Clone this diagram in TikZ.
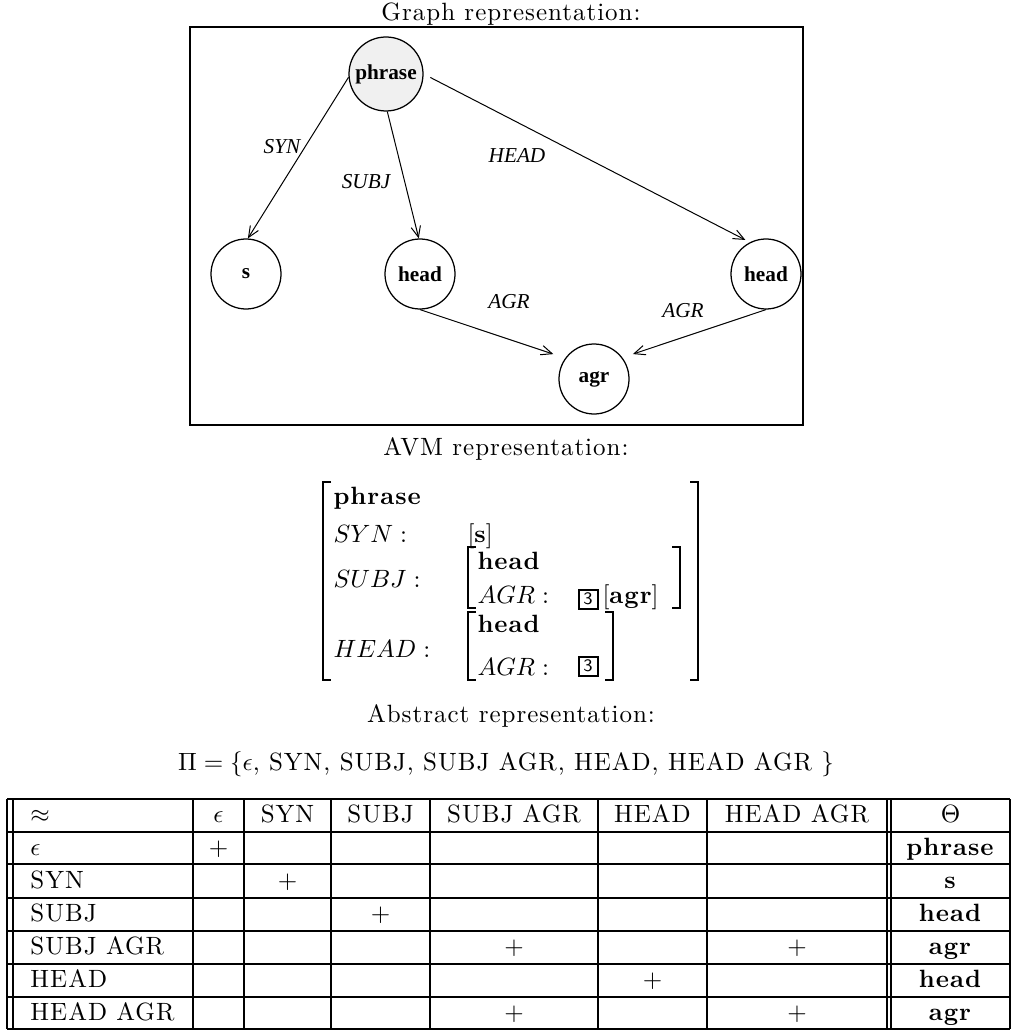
\documentclass[tikz,border=0pt]{standalone}
\usepackage{fontspec}
\setmainfont{lmroman10}[Extension=.otf,UprightFont=*-regular,BoldFont=*-bold,
  ItalicFont=*-italic,BoldItalicFont=*-bolditalic,LetterSpace=4]
\newfontfamily\graphfont{Liberation Serif}
\usepackage{tikz}
\usetikzlibrary{arrows.meta,positioning}

\begin{document}
\begin{tikzpicture}[x=0.4pt,y=-0.4pt,
  fsnode/.style={draw,circle,line width=0.5pt,minimum size=28pt,inner sep=0pt,
    font=\graphfont\bfseries\fontsize{8.5}{10}\selectfont},
  lbl/.style={inner sep=0pt,font=\graphfont\itshape\fontsize{8.5}{10}\selectfont},
  arr/.style={-{Straight Barb[length=4.4pt,width=3.8pt]},line width=0.4pt},
  heading/.style={anchor=base,inner sep=0pt},
  avmtext/.style={anchor=base west,inner sep=0pt},
  tagbox/.style={draw,line width=0.8pt,minimum size=7.6pt,inner sep=0pt,
    font=\sffamily\scriptsize},
  brk/.style={line width=1pt},
  cell/.style={anchor=base,inner sep=0pt},
  tabline/.style={line width=0.8pt}]
  \useasboundingbox (0,0) rectangle (1011,1032);

  \node[heading] (gcap) at (511,21) {Graph representation:};
  \draw[line width=1.1pt] (190,27) rectangle (803,425);
  \node[fsnode,fill=black!6,minimum size=29.6pt] (phrase) at (386,74) {phrase};
  \node[fsnode] (s) at (246,274) {s};
  \node[fsnode] (head1) at (420,274) {head};
  \node[fsnode] (head2) at (766,274) {head};
  \node[fsnode] (agr) at (594,379) {agr};
  \draw[arr] (phrase.185) -- (s.87);
  \draw[arr] (phrase.272) -- (head1.92);
  \draw[arr,shorten <=3pt,shorten >=2pt] (phrase.0) -- (head2.117);
  \draw[arr,shorten >=5pt] (head1.south) -- (agr.144);
  \draw[arr,shorten >=4.4pt] (head2.south) -- (agr.37);
  \node[lbl] (lsyn) at (282,147) {SYN};
  \node[lbl] (lsubj) at (366,182) {SUBJ};
  \node[lbl] (lhead) at (517,156) {HEAD};
  \node[lbl] (lagr1) at (509,302) {AGR};
  \node[lbl] (lagr2) at (683,311) {AGR};

  \node[heading] (acap) at (506,455) {AVM representation:};
  \node[avmtext] (aphrase) at (333,504) {\textbf{phrase}};
  \node[avmtext] (asyn) at (333,542) {$SYN:$};
  \node[avmtext] (asynval) at (467,542) {$[\textbf{s}]$};
  \node[avmtext] (asubj) at (333,587) {$SUBJ:$};
  \node[avmtext] (ahead1) at (477,569) {\textbf{head}};
  \node[avmtext] (aagr1) at (477,603) {$AGR:$};
  \node[tagbox] (tag1) at (588,599) {3};
  \node[avmtext] (aagrval) at (602,603) {$[\textbf{agr}]$};
  \node[avmtext] (ahead) at (333,657) {$HEAD:$};
  \node[avmtext] (ahead2) at (477,632) {\textbf{head}};
  \node[avmtext] (aagr2) at (477,675) {$AGR:$};
  \node[tagbox] (tag2) at (588,666) {3};
  \draw[brk] (331,482) -| (323,680) -- (331,680);
  \draw[brk] (690,482) -| (698,680) -- (690,680);
  \draw[brk] (476,547) -| (468,608) -- (476,608);
  \draw[brk] (672,547) -| (680,608) -- (672,608);
  \draw[brk] (476,612) -| (468,680) -- (476,680);
  \draw[brk] (605,612) -| (613,680) -- (605,680);

  \node[heading] (tcap) at (511,722) {Abstract representation:};
  \node[heading] (paths) at (506,770)
    {$\Pi = \{\epsilon$, SYN, SUBJ, SUBJ AGR, HEAD, HEAD AGR $\}$};
  \foreach \y in {799,832,864,898,931,964,997,1029}
    \draw[tabline] (7,\y) -- (1010,\y);
  \foreach \x in {7,13,193,244,331,430,598,707,887,891,1010}
    \draw[tabline] (\x,799) -- (\x,1029);
  \node[cell,anchor=base west] (h0) at (30,822) {$\approx$};
  \foreach \x/\t [count=\i] in {218.5/$\epsilon$,287.5/SYN,380.5/SUBJ,514/SUBJ AGR,
      652.5/HEAD,797/HEAD AGR,950.5/$\Theta$}
    \node[cell] (h\i) at (\x,822) {\t};
  \foreach \y/\t/\v [count=\i] in {855/$\epsilon$/phrase,888/SYN/s,921.5/SUBJ/head,
      954.5/SUBJ AGR/agr,987.5/HEAD/head,1020/HEAD AGR/agr} {
    \node[cell,anchor=base west] (r\i) at (30,\y) {\t};
    \node[cell] (v\i) at (950.5,\y) {\textbf{\v}};
  }
  \foreach \x/\y [count=\i] in {218.5/855,287.5/888,380.5/921.5,514/954.5,797/954.5,
      652.5/987.5,514/1020,797/1020}
    \node[cell] (p\i) at (\x,\y) {$+$};
\end{tikzpicture}
\end{document}
